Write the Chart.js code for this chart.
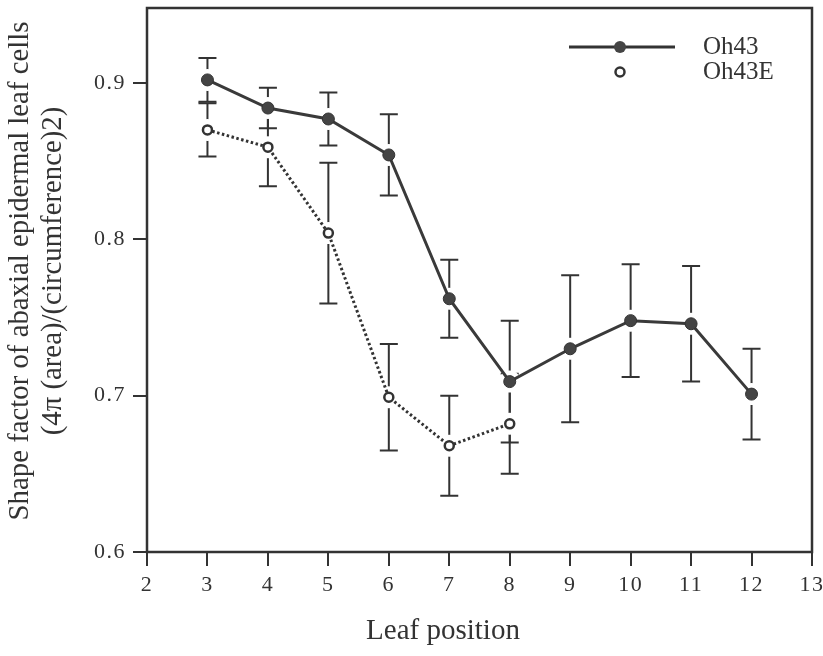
<!DOCTYPE html>
<html>
<head>
<meta charset="utf-8">
<script src="https://cdn.jsdelivr.net/npm/chart.js@4/dist/chart.umd.min.js"></script>
<style>
  body { margin: 0; background: #ffffff; }
  #wrap { width: 823px; height: 656px; }
</style>
</head>
<body>
<div id="wrap"><canvas id="leafChart" width="823" height="656"></canvas></div>
<script>
  // leaf positions and shape factor values
  const leafPos    = [3, 4, 5, 6, 7, 8, 9, 10, 11, 12];
  const oh43       = [0.902, 0.884, 0.877, 0.854, 0.762, 0.709, 0.730, 0.748, 0.746, 0.701];
  const oh43Err    = [0.014, 0.013, 0.017, 0.026, 0.025, 0.039, 0.047, 0.036, 0.037, 0.029];
  const leafPosE   = [3, 4, 5, 6, 7, 8];
  const oh43E      = [0.870, 0.859, 0.804, 0.699, 0.668, 0.682];
  const oh43EErr   = [0.017, 0.025, 0.045, 0.034, 0.032, 0.032];
  const yTicks     = [0.6, 0.7, 0.8, 0.9];
  const seriesNames = ["Oh43", "Oh43E"];
  const xTitle     = "Leaf position";
  const yTitle     = ["Shape factor of abaxial epidermal leaf cells", "(4\u03c0 (area)/(circumference)2)"];

  const ink = "#333333";
  const serif = "'Liberation Serif', 'Times New Roman', serif";

  function toPoints(xs, ys, errs)
  {
      return xs.map((x, i) => ({ x: x, y: ys[i], err: errs[i] }));
  }

  /*---------------- error bars, drawn under the markers ----------------*/
  const errorBars = {
      id: "errorBars",
      beforeDatasetsDraw(chart)
      {
          const ctx = chart.ctx;
          const xs = chart.scales.x, ys = chart.scales.y;
          ctx.save();
          ctx.strokeStyle = ink;
          ctx.lineWidth = 2;
          chart.data.datasets.forEach(ds => {
              ds.data.forEach(p => {
                  const px = xs.getPixelForValue(p.x);
                  const top = ys.getPixelForValue(p.y + p.err);
                  const bot = ys.getPixelForValue(p.y - p.err);
                  ctx.beginPath();
                  ctx.moveTo(px, top); ctx.lineTo(px, bot);
                  ctx.moveTo(px - 9, top); ctx.lineTo(px + 9, top);
                  ctx.moveTo(px - 9, bot); ctx.lineTo(px + 9, bot);
                  ctx.stroke();
              });
          });
          // white halo round every marker
          ctx.fillStyle = "#ffffff";
          chart.data.datasets.forEach(ds => {
              ds.data.forEach(p => {
                  ctx.beginPath();
                  ctx.arc(xs.getPixelForValue(p.x), ys.getPixelForValue(p.y), 11, 0, Math.PI * 2);
                  ctx.fill();
              });
          });
          ctx.restore();
      }
  };

  /*---------------- frame, legend and axis titles ----------------*/
  const decorations = {
      id: "decorations",
      beforeDraw(chart)
      {
          chart.ctx.letterSpacing = "1.5px";
      },
      afterDraw(chart)
      {
          const ctx = chart.ctx;
          const a = chart.chartArea;
          ctx.save();
          ctx.letterSpacing = "0px";
          ctx.strokeStyle = ink;
          ctx.lineWidth = 2.5;
          ctx.strokeRect(a.left, a.top, a.right - a.left, a.bottom - a.top);

          // legend
          const lx = a.right - 192, ly1 = a.top + 39, ly2 = a.top + 64;
          ctx.lineWidth = 3;
          ctx.beginPath(); ctx.moveTo(lx - 51, ly1); ctx.lineTo(lx + 55, ly1); ctx.stroke();
          ctx.fillStyle = "#444444";
          ctx.beginPath(); ctx.arc(lx, ly1, 6, 0, Math.PI * 2); ctx.fill();
          ctx.fillStyle = "#ffffff";
          ctx.lineWidth = 2.5;
          ctx.beginPath(); ctx.arc(lx, ly2, 4.5, 0, Math.PI * 2); ctx.fill(); ctx.stroke();
          ctx.fillStyle = ink;
          ctx.font = "25px " + serif;
          ctx.textAlign = "left";
          ctx.textBaseline = "middle";
          ctx.fillText(seriesNames[0], a.right - 109, ly1);
          ctx.fillText(seriesNames[1], a.right - 109, ly2);

          // axis titles
          ctx.font = "29px " + serif;
          ctx.textAlign = "center";
          ctx.fillText(xTitle, 443, 631);
          ctx.font = "28.8px " + serif;
          ctx.translate(20, 271);
          ctx.rotate(-Math.PI / 2);
          ctx.fillText(yTitle[0], 0, 0);
          ctx.fillText(yTitle[1], 0, 33);
          ctx.restore();
      }
  };

  const leafChart = new Chart(document.getElementById("leafChart"), {
      type: "line",
      data: {
          datasets: [
              {
                  label: seriesNames[0],
                  data: toPoints(leafPos, oh43, oh43Err),
                  borderColor: "#3a3a3a",
                  borderWidth: 3,
                  pointRadius: 6,
                  pointBackgroundColor: "#444444",
                  pointBorderColor: "#333333",
                  pointBorderWidth: 1,
                  tension: 0
              },
              {
                  label: seriesNames[1],
                  data: toPoints(leafPosE, oh43E, oh43EErr),
                  borderColor: "#333333",
                  borderWidth: 3,
                  borderDash: [2.5, 2.5],
                  pointRadius: 4.5,
                  pointBackgroundColor: "#ffffff",
                  pointBorderColor: "#333333",
                  pointBorderWidth: 2.5,
                  tension: 0
              }
          ]
      },
      options: {
          responsive: false,
          animation: false,
          events: [],
          layout: { padding: { top: 8, right: 11, left: 0, bottom: 0 } },
          plugins: {
              legend: { display: false },
              tooltip: { enabled: false }
          },
          scales: {
              x: {
                  type: "linear",
                  min: 2,
                  max: 13,
                  border: { display: false },
                  grid: { drawOnChartArea: false, drawTicks: true, tickLength: 14, color: ink, lineWidth: 2 },
                  ticks: { stepSize: 1, padding: 6, color: ink, font: { family: serif, size: 22 } },
                  afterFit: scale => {
                      scale.height = 104;
                      scale.paddingLeft = 0;
                      scale.paddingRight = 0;
                  }
              },
              y: {
                  min: 0.6,
                  max: 0.948,
                  border: { display: false },
                  grid: { drawOnChartArea: false, drawTicks: true, tickLength: 14, color: ink, lineWidth: 2 },
                  ticks: {
                      padding: 7,
                      color: ink,
                      font: { family: serif, size: 22 },
                      callback: v => v.toFixed(1)
                  },
                  afterBuildTicks: axis => { axis.ticks = yTicks.map(v => ({ value: v })); },
                  afterFit: scale => {
                      scale.width = 147;
                      scale.paddingTop = 0;
                      scale.paddingBottom = 0;
                  }
              }
          }
      },
      plugins: [errorBars, decorations]
  });
</script>
</body>
</html>
